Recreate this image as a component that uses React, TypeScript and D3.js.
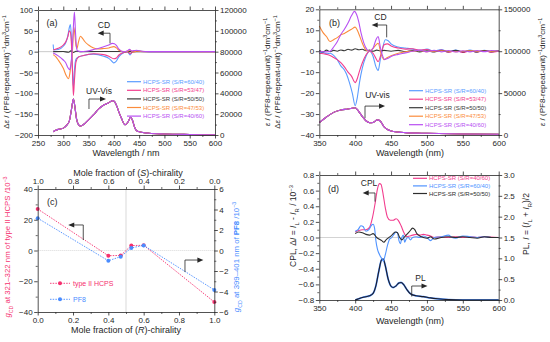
import { useEffect, useRef } from 'react'
import * as d3 from 'd3'

type P = [number, number]
type Seg = { t: string; sup?: boolean; sub?: boolean; it?: boolean; b?: boolean }

const FONT = '"Liberation Sans", Arial, Helvetica, sans-serif'
const INK = '#262626'

// legend entries shared by (a) and (b)
const mixLabels = ['HCPS-SR (S/R=60/40)', 'HCPS-SR (S/R=53/47)', 'HCPS-SR (S/R=50/50)', 'HCPS-SR (S/R=47/53)', 'HCPS-SR (S/R=40/60)']
const mixColors = ['#5a9bff', '#f23d8e', '#3a3a3a', '#fb8c3c', '#b84ff2']

// (a) CD, Δε (left axis)
const cdA60: P[] = [[280, 17], [281, 4], [290, 5], [300, 13], [305, 22], [309, 38], [312, 58], [314, 65], [316, 35], [318, -40], [320, -85], [322, -45], [325, -18], [330, -13], [340, -9], [360, -6], [380, -11], [390, -16], [396, -23], [400, -27], [404, -24], [410, -12], [420, -2], [427, 0], [432, -8], [436, -1], [442, 2], [450, 1.5], [460, 0.5], [480, 0], [600, 0]]
const cdA53: P[] = [[280, 4], [290, 8], [300, 16], [305, 24], [309, 36], [312, 50], [314, 47], [316, 20], [318, -40], [320, -105], [322, -70], [325, -25], [330, -13], [340, -9], [360, -5], [380, -7], [390, -11], [400, -17], [405, -15], [410, -8], [420, -2], [427, 0], [432, -5], [437, -1], [445, 0.5], [460, 0], [600, 0]]
const cdA50: P[] = [[280, 0], [300, 0.5], [310, -1.5], [315, 2], [320, -2], [325, 1], [335, 0], [400, 0.5], [420, 0], [600, 0]]
const cdA47: P[] = [[280, -7], [285, -12], [290, -20], [300, -40], [306, -58], [310, -65], [313, -52], [315, -33], [318, 0], [321, 58], [323, 40], [325, 15], [327, 8], [330, 23], [334, 37], [338, 32], [342, 25], [350, 16], [360, 9], [370, 6.5], [380, 7.5], [390, 9], [400, 12], [405, 9], [410, 3.5], [420, 0], [428, 1.3], [432, 4], [437, -0.7], [445, 1], [460, 0.3], [600, 0]]
const cdA40: P[] = [[280, -3], [290, -10], [300, -20], [305, -27], [309, -38], [312, -43], [314, -38], [316, -20], [318, 15], [320, 60], [322, 95], [324, 50], [326, 12], [328, 2], [335, 0], [345, 1], [360, 5], [380, 12], [390, 16], [397, 20], [401, 19], [405, 15], [410, 6], [420, -0.5], [427, 2], [431, 5.5], [435, 2], [440, 2.5], [445, 3.5], [455, 1], [470, 0], [600, 0]]
// (a) UV-Vis, ε (right axis)
const uvA: P[] = [[280, 3200], [285, 4500], [290, 5400], [300, 6600], [306, 9000], [312, 13500], [316, 24000], [320, 34500], [323, 27000], [326, 16000], [330, 10000], [334, 8600], [340, 10000], [350, 14500], [360, 19500], [370, 25000], [380, 28800], [388, 30500], [398, 33000], [402, 31500], [406, 27500], [410, 22000], [415, 16000], [422, 9800], [428, 12500], [433, 17000], [437, 14000], [441, 7500], [445, 4100], [455, 2600], [470, 1700], [500, 1000], [550, 500], [600, 200]]

// (b) CD, Δε (left axis)
const cdB60: P[] = [[350, -1], [355, -0.5], [360, -1.2], [365, -1], [370, -2], [375, -4], [380, -7], [385, -9], [388, -11], [392, -15], [396, -20], [400, -26], [403, -22], [406, -15], [410, -8], [415, -2.5], [420, 0], [425, -2.5], [429, -7.5], [432, -9.2], [435, -4], [438, 1], [442, 5.5], [446, 5], [450, 3.5], [460, 2], [470, 1.5], [480, 1], [490, 0.3], [500, 1], [510, 0], [520, 0.8], [530, -0.4], [540, 0.5], [550, -0.5], [560, 0.6], [570, -0.3], [580, 0.4], [590, -0.3], [600, 0.3]]
const cdB53: P[] = [[350, -1], [360, -1.5], [365, -2], [370, -3], [375, -4], [380, -5.5], [385, -7.5], [390, -10], [395, -12], [400, -15], [403, -13], [406, -9.5], [410, -5.5], [415, -1.8], [420, 0], [425, -1], [429, -3.5], [432, -5], [436, -1.5], [440, 3], [445, 3.5], [450, 2.5], [460, 1.5], [470, 1], [480, 1.2], [490, 0.5], [500, 0.8], [510, -0.2], [520, 0.5], [530, -0.5], [540, 0.3], [550, -0.6], [560, 0.2], [570, -0.4], [580, 0.3], [590, -0.5], [600, 0]]
const cdB50: P[] = [[350, 0.3], [355, -0.4], [360, 0.5], [365, -0.2], [370, 0.4], [375, 0], [380, 0.6], [385, 0.2], [390, 0.9], [395, 0.5], [400, 1.2], [405, 0.7], [410, 0.9], [415, 0.2], [420, 0.5], [425, 0], [430, 0.5], [435, 0.1], [440, 0.4], [450, 0], [460, 0.4], [470, -0.2], [480, 0.3], [490, -0.3], [500, 0.2], [510, -0.4], [520, 0.3], [530, -0.2], [540, 0.4], [550, -0.3], [560, 0.2], [570, -0.4], [580, 0.3], [590, -0.2], [600, 0.2]]
const cdB47: P[] = [[350, 12], [355, 9], [360, 7], [365, 4.6], [370, 5.5], [375, 6.5], [380, 7.8], [385, 8.5], [390, 9.5], [395, 10.5], [400, 11.5], [403, 10], [406, 7.5], [410, 3.8], [415, 0.6], [420, 0], [425, 1.4], [429, 3], [432, 3.8], [436, -1], [440, -4], [445, -3], [450, -2.2], [460, -1], [470, -0.3], [480, 0], [490, 0.3], [500, -0.2], [520, 0.2], [540, -0.2], [560, 0.2], [580, -0.1], [600, 0.1]]
const cdB40: P[] = [[350, 0], [360, -0.3], [365, 0], [370, 2], [375, 4.5], [380, 8], [385, 10.5], [390, 13.5], [395, 17], [399, 19], [402, 17.5], [405, 14], [408, 9], [412, 4], [416, 1], [420, 0], [425, 1.5], [429, 5.5], [432, 7], [435, 2], [438, -2], [441, -4], [445, -3.5], [450, -2.5], [460, -1.5], [470, -0.8], [480, 0], [490, 0.5], [500, -0.3], [510, 0.4], [520, -0.3], [530, 0.3], [540, -0.4], [550, 0.2], [560, -0.3], [570, 0.3], [580, -0.2], [590, 0.3], [600, 0]]
// (b) UV-vis, ε (right axis)
const uvB: P[] = [[350, 14700], [360, 21500], [370, 27000], [380, 29800], [390, 31000], [400, 32600], [405, 28000], [410, 22000], [415, 17000], [420, 14700], [425, 15000], [431, 18000], [435, 16500], [440, 10000], [445, 6500], [450, 4800], [460, 3400], [470, 2800], [500, 2000], [550, 1200], [600, 800]]

// (c) g_CD against mole fraction of (R)
const molR = [0, 0.4, 0.47, 0.53, 0.6, 1.0]
const gHCPS = [27, -3.4, -3.2, 3.2, 3.4, -33.5]
const gPF8 = [3.15, -1.0, -0.6, 0.25, 0.5, -3.85]

// (d) CPL (left axis) and PL (right axis)
const dLabels = ['HCPS-SR (S/R=40/60)', 'HCPS-SR (S/R=60/40)', 'HCPS-SR (S/R=50/50)']
const dColors = ['#f23d8e', '#4f93ff', '#2e2e2e']
const cplD40: P[] = [[400, 0.07], [405, 0.09], [410, 0.1], [415, 0.1], [420, 0.13], [424, 0.25], [428, 0.45], [431, 0.62], [434, 0.69], [436, 0.68], [439, 0.55], [442, 0.38], [445, 0.26], [449, 0.22], [453, 0.22], [457, 0.24], [460, 0.22], [464, 0.15], [468, 0.06], [472, 0.01], [476, 0.02], [480, 0.03], [485, 0.04], [490, 0.03], [495, 0.04], [500, 0.03], [505, 0.02], [510, 0], [520, 0.01], [530, 0], [540, 0.01], [550, 0], [560, 0.01], [570, 0], [580, 0.01], [600, 0]]
const cplD60: P[] = [[400, 0.08], [404, 0.1], [408, 0.15], [411, 0.14], [415, 0.08], [419, 0.1], [423, 0.16], [425, 0.17], [427, 0.12], [429, -0.05], [431, -0.15], [434, -0.22], [437, -0.27], [439, -0.3], [442, -0.22], [445, -0.1], [448, -0.02], [451, 0], [454, 0.04], [457, 0.07], [459, 0.06], [461, -0.04], [463, -0.08], [465, 0], [467, 0.03], [469, -0.06], [471, -0.02], [474, 0], [477, -0.03], [480, 0], [485, 0.01], [490, 0], [495, 0.02], [500, 0], [505, -0.04], [510, 0], [520, 0.01], [530, 0.03], [535, 0], [540, -0.01], [550, 0.02], [560, 0.01], [570, 0], [580, 0.01], [590, 0], [600, 0]]
const cplD50: P[] = [[400, 0.05], [405, 0.07], [410, 0.06], [415, 0.04], [420, 0.03], [425, 0.05], [430, 0], [433, -0.02], [437, -0.04], [440, -0.06], [443, -0.03], [447, 0], [450, 0.02], [453, 0.05], [456, 0.07], [459, 0.06], [462, 0], [465, -0.03], [468, 0], [472, 0.04], [476, 0.08], [480, 0.12], [483, 0.1], [486, 0.05], [490, 0.02], [495, 0], [500, -0.01], [505, 0.01], [510, -0.02], [520, 0], [530, 0.01], [540, 0], [550, 0.01], [560, 0], [570, -0.01], [580, 0.01], [590, 0], [600, 0]]
const plD: P[] = [[400, 0], [405, 0.03], [410, 0.06], [415, 0.08], [420, 0.1], [425, 0.16], [429, 0.35], [433, 0.7], [437, 0.97], [439, 0.98], [442, 0.82], [446, 0.5], [450, 0.33], [453, 0.3], [457, 0.34], [461, 0.41], [464, 0.42], [468, 0.36], [472, 0.25], [477, 0.15], [485, 0.1], [495, 0.08], [505, 0.05], [515, 0.03], [530, 0.01], [550, 0], [600, 0]]

const range = (a: number, b: number, s: number) => d3.range(a, b + s / 2, s)

function axis(g: any, orient: string, scale: any, ticks: number[], fmt: ((d: number) => string) | null, pos: number) {
  const make = orient === 'left' ? d3.axisLeft : orient === 'right' ? d3.axisRight : orient === 'top' ? d3.axisTop : d3.axisBottom
  const horiz = orient === 'top' || orient === 'bottom'
  const tr = horiz ? `translate(0,${pos})` : `translate(${pos},0)`
  const minor = ticks.slice(1).map((t, i) => (t + ticks[i]) / 2)
  g.append('g').attr('transform', tr)
    .call(make(scale).tickValues(minor).tickSize(2).tickSizeOuter(0).tickFormat(() => ''))
    .call((s: any) => s.select('.domain').remove())
    .call((s: any) => s.selectAll('line').attr('stroke', INK).attr('stroke-width', 0.7))
  const a = g.append('g').attr('transform', tr)
    .call(make(scale).tickValues(ticks).tickSize(3.5).tickSizeOuter(0).tickPadding(1.5)
      .tickFormat(fmt ? (d: any) => fmt(+d) : () => ''))
  a.select('.domain').attr('stroke', INK).attr('stroke-width', 0.8)
  a.selectAll('.tick line').attr('stroke', INK).attr('stroke-width', 0.8)
  a.selectAll('.tick text').attr('fill', INK).attr('font-size', 8).attr('font-family', FONT)
}

function rich(g: any, segs: Seg[], x: number, y: number, size: number, fill: string, rotate = false) {
  const t = g.append('text').attr('x', x).attr('y', y).attr('text-anchor', 'middle')
    .attr('font-size', size).attr('font-family', FONT).attr('fill', fill)
  if (rotate) t.attr('transform', `rotate(-90,${x},${y})`)
  segs.forEach((s) => {
    const sp = t.append('tspan').text(s.t)
    if (s.it) sp.attr('font-style', 'italic')
    if (s.b) sp.attr('font-weight', 'bold')
    if (s.sup) sp.attr('baseline-shift', 'super').attr('font-size', size * 0.68)
    if (s.sub) sp.attr('baseline-shift', 'sub').attr('font-size', size * 0.68)
  })
}

// bent annotation arrow, last point is the tip
function arrow(g: any, pts: P[]) {
  const [tx, ty] = pts[pts.length - 1]
  const [px] = pts[pts.length - 2]
  const dir = tx > px ? 1 : -1
  const body = pts.slice(0, -1).concat([[tx - dir * 4, ty]])
  g.append('path').attr('d', d3.line()(body)).attr('fill', 'none').attr('stroke', INK).attr('stroke-width', 0.8)
  g.append('path').attr('d', `M${tx},${ty}L${tx - dir * 6},${ty - 2.6}L${tx - dir * 6},${ty + 2.6}Z`).attr('fill', INK)
}

function label(g: any, text: string, x: number, y: number, size = 8.5, anchor = 'middle') {
  g.append('text').attr('x', x).attr('y', y).attr('text-anchor', anchor).attr('font-size', size)
    .attr('font-family', FONT).attr('fill', INK).text(text)
}

function legend(g: any, labels: string[], colors: string[], x: number, y0: number, dy: number) {
  labels.forEach((l, i) => {
    const y = y0 + i * dy
    g.append('line').attr('x1', x).attr('x2', x + 14).attr('y1', y).attr('y2', y).attr('stroke', colors[i]).attr('stroke-width', 1.2)
    g.append('text').attr('x', x + 16).attr('y', y).attr('dy', '0.35em').attr('font-size', 6)
      .attr('font-family', FONT).attr('fill', colors[i]).text(l)
  })
}

function curve(g: any, x: any, y: any, data: P[], color: string, w = 1.1) {
  const line = d3.line<P>().x((d) => x(d[0])).y((d) => y(d[1])).curve(d3.curveMonotoneX)
  g.append('path').datum(data).attr('fill', 'none').attr('stroke', color).attr('stroke-width', w)
    .attr('stroke-linejoin', 'round').attr('d', line)
}

const epsLabel = (delta: boolean): Seg[] => [
  ...(delta ? [{ t: 'Δ' }] : []), { t: 'ε', it: true }, { t: ' / (PF8-repeat-unit)' }, { t: '−1', sup: true },
  { t: 'dm' }, { t: '3', sup: true }, { t: 'cm' }, { t: '−1', sup: true },
]

export default function App() {
  const ref = useRef<SVGSVGElement>(null)

  useEffect(() => {
    if (!ref.current) return
    const svg = d3.select(ref.current)
    svg.selectAll('*').remove()
    const fint = d3.format('d')
    const f1 = d3.format('.1f')

    // ---------- (a) ----------
    const xA = d3.scaleLinear().domain([250, 600]).range([38, 215])
    const yA = d3.scaleLinear().domain([-200, 100]).range([135, 10])
    const yAr = d3.scaleLinear().domain([0, 120000]).range([135, 10])
    const ga = svg.append('g')
    ga.append('line').attr('x1', xA(250)).attr('x2', xA(600)).attr('y1', yA(0)).attr('y2', yA(0)).attr('stroke', '#bdbdbd').attr('stroke-width', 0.8)
    mixColors.forEach((c) => curve(ga, xA, yAr, uvA, c))
    ;[cdA60, cdA53, cdA50, cdA47, cdA40].forEach((d, i) => curve(ga, xA, yA, d, mixColors[i]))
    axis(ga, 'bottom', xA, range(250, 600, 50), fint, 135)
    axis(ga, 'top', xA, range(250, 600, 50), null, 10)
    axis(ga, 'left', yA, range(-200, 100, 50), fint, 38)
    axis(ga, 'right', yAr, range(0, 120000, 20000), fint, 215)
    rich(ga, [{ t: 'Wavelength / nm' }], 126, 156, 9, INK)
    rich(ga, epsLabel(true), 9, 72, 8, INK, true)
    rich(ga, epsLabel(false), 269.5, 72, 8, INK, true)
    label(ga, '(a)', xA(267), yA(62), 9, 'start')
    label(ga, 'CD', xA(380.5), yA(57))
    arrow(ga, [[xA(392.4), yA(20)], [xA(392.4), yA(44.3)], [xA(368), yA(44.3)]])
    label(ga, 'UV-Vis', xA(370.6), yA(-100.4))
    arrow(ga, [[xA(350.8), yA(-137.6)], [xA(350.8), yA(-113.6)], [xA(384.5), yA(-113.6)]])
    legend(ga, mixLabels, mixColors, 127, 81.7, 8.6)

    // ---------- (b) ----------
    const xB = d3.scaleLinear().domain([350, 600]).range([319.3, 498.7])
    const yB = d3.scaleLinear().domain([-40, 20]).range([135, 9.3])
    const yBr = d3.scaleLinear().domain([0, 150000]).range([135, 9.3])
    const gb = svg.append('g')
    mixColors.forEach((c) => curve(gb, xB, yBr, uvB, c))
    ;[cdB60, cdB53, cdB50, cdB47, cdB40].forEach((d, i) => curve(gb, xB, yB, d, mixColors[i]))
    axis(gb, 'bottom', xB, range(350, 600, 50), fint, 135)
    axis(gb, 'top', xB, range(350, 600, 50), null, 9.3)
    axis(gb, 'left', yB, range(-40, 20, 10), fint, 319.3)
    axis(gb, 'right', yBr, range(0, 150000, 50000), fint, 498.7)
    rich(gb, [{ t: 'Wavelength (nm)' }], 410, 156, 9, INK)
    rich(gb, epsLabel(true), 280, 72, 8, INK, true)
    rich(gb, epsLabel(false), 544.5, 72, 8, INK, true)
    label(gb, '(b)', xB(363.5), yB(12), 9, 'start')
    label(gb, 'CD', xB(435.3), yB(15.1))
    arrow(gb, [[xB(443.9), yB(6.6)], [xB(443.9), yB(12.5)], [xB(423), yB(12.5)]])
    label(gb, 'UV-vis', xB(431.1), yB(-22.3))
    arrow(gb, [[xB(413.7), yB(-32)], [xB(413.7), yB(-26.2)], [xB(441.6), yB(-26.2)]])
    legend(gb, mixLabels, mixColors, 409, 90.7, 8.5)

    // ---------- (c) ----------
    const pinkC = '#f5306f'
    const blueC = '#4a8cff'
    const xC = d3.scaleLinear().domain([0, 1]).range([37.7, 214.3])
    const xCs = d3.scaleLinear().domain([1, 0]).range([37.7, 214.3])
    const yC = d3.scaleLinear().domain([-40, 40]).range([312, 189])
    const yCr = d3.scaleLinear().domain([-6, 6]).range([312, 189])
    const gc = svg.append('g')
    gc.append('line').attr('x1', xC(0)).attr('x2', xC(1)).attr('y1', yC(0)).attr('y2', yC(0)).attr('stroke', '#c8c8c8').attr('stroke-width', 0.7).attr('stroke-dasharray', '1 1')
    gc.append('line').attr('x1', xC(0.5)).attr('x2', xC(0.5)).attr('y1', yC(-40)).attr('y2', yC(40)).attr('stroke', '#c8c8c8').attr('stroke-width', 0.7)
    const lineC = (y: any, vals: number[]) => d3.line<number>().x((_, i) => xC(molR[i])).y((v) => y(v))(vals)
    gc.append('path').attr('d', lineC(yC, gHCPS)).attr('fill', 'none').attr('stroke', pinkC).attr('stroke-width', 0.9).attr('stroke-dasharray', '1.5 1.2')
    gc.append('path').attr('d', lineC(yCr, gPF8)).attr('fill', 'none').attr('stroke', blueC).attr('stroke-width', 0.9).attr('stroke-dasharray', '1.5 1.2')
    gHCPS.forEach((v, i) => gc.append('circle').attr('cx', xC(molR[i])).attr('cy', yC(v)).attr('r', 2).attr('fill', pinkC))
    gPF8.forEach((v, i) => gc.append('circle').attr('cx', xC(molR[i])).attr('cy', yCr(v)).attr('r', 2).attr('fill', blueC))
    axis(gc, 'bottom', xC, range(0, 1, 0.2), f1, 312)
    axis(gc, 'top', xCs, range(0, 1, 0.2), f1, 189)
    axis(gc, 'left', yC, range(-40, 40, 20), fint, 37.7)
    axis(gc, 'right', yCr, range(-6, 6, 2), fint, 214.3)
    rich(gc, [{ t: 'Mole fraction of (' }, { t: 'S', it: true }, { t: ')-chirality' }], 128, 176, 9, INK)
    rich(gc, [{ t: 'Mole fraction of (' }, { t: 'R', it: true }, { t: ')-chirality' }], 126, 333, 9, INK)
    rich(gc, [{ t: 'g', it: true }, { t: 'CD', sub: true }, { t: ' at 321–322 nm of type II HCPS /10' }, { t: '−3', sup: true }], 10, 247, 7.8, pinkC, true)
    rich(gc, [{ t: 'g', it: true }, { t: 'CD', sub: true }, { t: ' at 399–401 nm of ' }, { t: 'PF8', b: true }, { t: ' /10' }, { t: '−3', sup: true }], 239, 257, 7.8, blueC, true)
    label(gc, '(c)', xC(0.053), yC(29.6), 9, 'start')
    arrow(gc, [[xC(0.258), yC(6.8)], [xC(0.258), yC(16.6)], [xC(0.173), yC(16.6)]])
    arrow(gc, [[xC(0.834), yCr(-2.1)], [xC(0.834), yCr(-0.93)], [xC(0.938), yCr(-0.93)]])
    ;[[pinkC, 'type II HCPS', 283.3], [blueC, 'PF8', 299.3]].forEach(([c, t, y]: any) => {
      gc.append('line').attr('x1', 50).attr('x2', 70).attr('y1', y).attr('y2', y).attr('stroke', c).attr('stroke-width', 0.9).attr('stroke-dasharray', '1.5 1.2')
      gc.append('circle').attr('cx', 60).attr('cy', y).attr('r', 2).attr('fill', c)
      gc.append('text').attr('x', 73).attr('y', y).attr('dy', '0.35em').attr('font-size', 7).attr('font-family', FONT).attr('fill', c).text(t)
    })

    // ---------- (d) ----------
    const xD = d3.scaleLinear().domain([350, 600]).range([319.3, 498.7])
    const yD = d3.scaleLinear().domain([-0.8, 0.8]).range([300, 175])
    const yDr = d3.scaleLinear().domain([0, 3]).range([300, 175])
    const gd = svg.append('g')
    gd.append('line').attr('x1', xD(350)).attr('x2', xD(600)).attr('y1', yD(0)).attr('y2', yD(0)).attr('stroke', '#c8c8c8').attr('stroke-width', 0.8)
    curve(gd, xD, yDr, plD, dColors[1], 1.8)
    curve(gd, xD, yDr, plD, '#1c1c2a', 1.1)
    ;[cplD40, cplD60, cplD50].forEach((d, i) => curve(gd, xD, yD, d, dColors[i]))
    axis(gd, 'bottom', xD, range(350, 600, 50), fint, 300)
    axis(gd, 'top', xD, range(350, 600, 50), null, 175)
    axis(gd, 'left', yD, range(-0.8, 0.8, 0.2), f1, 319.3)
    axis(gd, 'right', yDr, range(0, 3, 0.5), f1, 498.7)
    rich(gd, [{ t: 'Wavelength (nm)' }], 410, 324, 9, INK)
    rich(gd, [{ t: 'CPL, Δ' }, { t: 'I', it: true }, { t: ' = ' }, { t: 'I', it: true }, { t: 'L', sub: true }, { t: ' - ' }, { t: 'I', it: true }, { t: 'R', sub: true }, { t: ' / 10' }, { t: '−3', sup: true }], 295.5, 226, 8.5, INK, true)
    rich(gd, [{ t: 'PL, ' }, { t: 'I', it: true }, { t: ' = (' }, { t: 'I', it: true }, { t: 'L', sub: true }, { t: ' + ' }, { t: 'I', it: true }, { t: 'R', sub: true }, { t: ')/2' }], 528.5, 224, 8.5, INK, true)
    label(gd, '(d)', xD(362.1), yD(0.58), 9, 'start')
    label(gd, 'CPL', xD(419.3), yD(0.66))
    arrow(gd, [[xD(427.6), yD(0.46)], [xD(427.6), yD(0.57)], [xD(410.5), yD(0.57)]])
    label(gd, 'PL', xD(491), yDr(0.456))
    arrow(gd, [[xD(478.8), yDr(0.084)], [xD(478.8), yDr(0.336)], [xD(500.8), yDr(0.336)]])
    legend(gd, dLabels, dColors, 413, 178.3, 7.6)
  }, [])

  return <svg ref={ref} width={550} height={342} style={{ position: 'absolute', left: 0, top: 0, background: '#fff' }} />
}
